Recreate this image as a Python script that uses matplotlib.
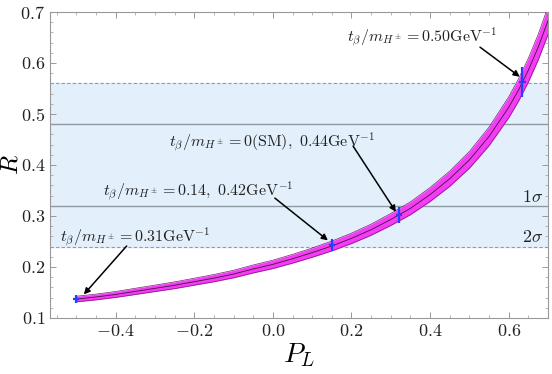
import matplotlib
matplotlib.use("Agg")
import matplotlib.pyplot as plt
from matplotlib.ticker import MultipleLocator

plt.rcParams['mathtext.fontset'] = 'cm'
plt.rcParams['font.family'] = ['cmr10', 'DejaVu Serif']
plt.rcParams['axes.formatter.use_mathtext'] = True

# Theory curve R(P_L) with its uncertainty band
P_curve = [-0.5, -0.45, -0.4, -0.35, -0.3, -0.25, -0.2, -0.15, -0.1, -0.05, 0.0, 0.05, 0.1,
           0.15, 0.2, 0.25, 0.3, 0.35, 0.4, 0.45, 0.5, 0.55, 0.6, 0.625, 0.65, 0.675, 0.7]
R_curve = [0.137, 0.141, 0.146, 0.152, 0.158, 0.164, 0.171, 0.178, 0.186, 0.196, 0.205, 0.216, 0.228,
           0.241, 0.256, 0.273, 0.293, 0.315, 0.342, 0.373, 0.410, 0.456, 0.513, 0.547, 0.586, 0.631, 0.683]
R_lo = [0.1315, 0.1354, 0.1402, 0.1459, 0.1517, 0.1574, 0.1642, 0.1709, 0.1786, 0.1882, 0.1968,
        0.2074, 0.2189, 0.2314, 0.2458, 0.2621, 0.2813, 0.3024, 0.3283, 0.3581, 0.3936, 0.4378,
        0.4925, 0.5251, 0.5626, 0.6058, 0.6557]
R_hi = [0.1425, 0.1466, 0.1518, 0.1581, 0.1643, 0.1706, 0.1778, 0.1851, 0.1934, 0.2038, 0.2132,
        0.2246, 0.2371, 0.2506, 0.2662, 0.2839, 0.3047, 0.3276, 0.3557, 0.3879, 0.4264, 0.4742,
        0.5335, 0.5689, 0.6094, 0.6562, 0.7103]

# Benchmark points
P_pts = [-0.5, 0.15, 0.32, 0.635]
R_pts = [0.137, 0.243, 0.302, 0.563]
R_pts_err = [0.007, 0.012, 0.015, 0.029]
P_pts_err = [0.008, 0.008, 0.008, 0.008]

# Experimental bands
sigma1 = [0.32, 0.48]
sigma2 = [0.24, 0.56]

labels = [r'$t_\beta/m_{H^\pm}=0.50\mathrm{GeV}^{-1}$',
          r'$t_\beta/m_{H^\pm}=0(\mathrm{SM}),\ 0.44\mathrm{GeV}^{-1}$',
          r'$t_\beta/m_{H^\pm}=0.14,\ 0.42\mathrm{GeV}^{-1}$',
          r'$t_\beta/m_{H^\pm}=0.31\mathrm{GeV}^{-1}$']
label_xy = [(0.379, 0.651), (-0.003, 0.445), (-0.191, 0.349), (-0.351, 0.259)]
arrow_tail = [(0.527, 0.631), (0.204, 0.437), (0.005, 0.335), (-0.372, 0.241)]
arrow_head = [(0.628, 0.573), (0.313, 0.308), (0.140, 0.252), (-0.481, 0.146)]

fig = plt.figure(figsize=(5.52, 3.74), dpi=100)
ax = fig.add_axes([0.0906, 0.150, 0.9022, 0.818])
ax.set_xlim(-0.567, 0.7)
ax.set_ylim(0.1, 0.7)

ax.axhspan(sigma2[0], sigma2[1], color='#E3F0FC', zorder=0)
for y in sigma2:
    ax.axhline(y, color='#999999', lw=0.8, ls=(0, (3, 2)), zorder=1)
for y in sigma1:
    ax.axhline(y, color='#8E99A3', lw=1.0, zorder=1)

ax.fill_between(P_curve, R_lo, R_hi, color='#F53BF5', lw=0, zorder=2)
ax.plot(P_curve, R_lo, color='#7A1F7A', lw=0.5, zorder=3)
ax.plot(P_curve, R_hi, color='#7A1F7A', lw=0.5, zorder=3)
ax.plot(P_curve, R_curve, color='#3A1A3A', lw=0.6, zorder=3)

ax.errorbar(P_pts, R_pts, yerr=R_pts_err, xerr=P_pts_err, fmt='none',
            ecolor='#2A3DFF', elinewidth=1.6, capsize=0, zorder=4)

for lab, xy, t, h in zip(labels, label_xy, arrow_tail, arrow_head):
    ax.text(xy[0], xy[1], lab, ha='center', va='center', fontsize=11.5, color='#222222', zorder=5)
    ax.annotate('', xy=h, xytext=t,
                arrowprops=dict(arrowstyle='-|>', color='black', lw=1.1,
                                mutation_scale=9, shrinkA=0, shrinkB=0), zorder=5)

ax.text(0.688, 0.322, r'$1\sigma$', ha='right', va='bottom', fontsize=13, color='#222222')
ax.text(0.688, 0.242, r'$2\sigma$', ha='right', va='bottom', fontsize=13, color='#222222')

ax.xaxis.set_major_locator(MultipleLocator(0.2))
ax.xaxis.set_minor_locator(MultipleLocator(0.05))
ax.yaxis.set_major_locator(MultipleLocator(0.1))
ax.yaxis.set_minor_locator(MultipleLocator(0.02))
ax.tick_params(which='both', direction='in', top=True, right=True, color='#999999',
               labelsize=13, labelcolor='#222222')
ax.tick_params(which='major', length=4, width=0.7)
ax.tick_params(which='minor', length=2, width=0.5)
for s in ax.spines.values():
    s.set_color('#999999')
    s.set_linewidth(0.8)

ax.set_xlabel(r'$P_L$', fontsize=20, labelpad=2)
ax.set_ylabel(r'$R$', fontsize=18, va='center')
ax.yaxis.set_label_coords(-0.078, 0.5)

fig.savefig('out.png', dpi=100)
